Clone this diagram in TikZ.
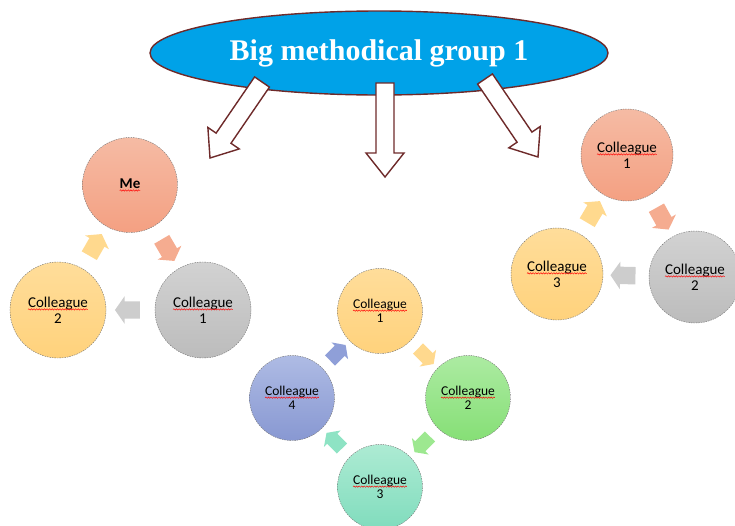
\documentclass[tikz,border=0pt]{standalone}
\usepackage{fontspec}
\setmainfont{Carlito}
\newfontfamily\titlefont{Liberation Serif}
\usetikzlibrary{shapes.geometric,shapes.arrows,calc,decorations.pathmorphing}
\newcommand\spellwave[1]{\tikz[baseline=(w.base)]{\node[rectangle, inner sep=0pt, outer sep=0pt, draw=none, fill=none, solid, minimum size=0pt, align=center] (w) {#1};
  \draw[red, solid, line width=0.45pt, decorate, decoration={snake, amplitude=0.7pt, segment length=2.6pt}] ([yshift=-2.2pt]w.base west) -- ([yshift=-2.2pt]w.base east);}}
\definecolor{outl}{HTML}{6E2A2A}
\definecolor{skyblue}{HTML}{00A2E8}
\definecolor{salT}{HTML}{F5BBA4}\definecolor{salB}{HTML}{F4A082}\definecolor{salA}{HTML}{F5AC90}
\definecolor{grT}{HTML}{D2D2D2}\definecolor{grB}{HTML}{BCBCBC}\definecolor{grA}{HTML}{CDCDCD}
\definecolor{yeT}{HTML}{FFDD9A}\definecolor{yeB}{HTML}{FFD27C}\definecolor{yeA}{HTML}{FFD98E}
\definecolor{gnT}{HTML}{ACEBA2}\definecolor{gnB}{HTML}{86DF76}\definecolor{gnA}{HTML}{9DE890}
\definecolor{tlT}{HTML}{ADEBD3}\definecolor{tlB}{HTML}{80DCBD}\definecolor{tlA}{HTML}{8EE3C4}
\definecolor{blT}{HTML}{AEBBE4}\definecolor{blB}{HTML}{8898D2}\definecolor{blA}{HTML}{8F9FD8}
\tikzset{
  bub/.style={circle, inner sep=0pt, minimum size=#1, align=center,
    draw=black!55, line width=0.4pt, dash pattern=on 1.5pt off 1pt,
    font=\fontsize{15}{16}\selectfont},
  bubs/.style={bub=85pt, font=\fontsize{13.5}{14.5}\selectfont},
  cycarrow/.style={single arrow, inner xsep=0pt, inner ysep=8.5pt, minimum height=25pt, minimum width=27pt,
    single arrow head extend=5pt, single arrow tip angle=110, draw=none},
  cycarrows/.style={cycarrow, inner ysep=7pt, minimum height=22pt, minimum width=23pt, single arrow head extend=4.5pt},
  hollow/.style={draw=outl, line width=1.4pt, fill=white, line join=miter},
}
\newcommand\cyc[5][]{%
  \path let \p1=($(#4)-(#3)$), \n1={atan2(\y1,\x1)} in
    node[cycarrow, #1, fill=#5, rotate=\n1] (#2) at ($(#3)!0.5!(#4)$) {};}
\newcommand\bigarrow[2]{%
  \coordinate (#1h) at ($(#2)!24pt!(#1)$);
  \draw[hollow] ($(#1)!9pt!90:(#2)$) -- ($(#1h)!9pt!90:(#2)$) -- ($(#1h)!19pt!90:(#2)$)
    -- (#2) -- ($(#1h)!19pt!-90:(#2)$) -- ($(#1h)!9pt!-90:(#2)$) -- ($(#1)!9pt!-90:(#2)$) -- cycle;}
\begin{document}
\begin{tikzpicture}[x=1pt,y=-1pt]
\useasboundingbox (0,0) rectangle (735,525);
% title
\node[ellipse, draw=outl, line width=1.4pt, fill=skyblue, minimum width=458pt, minimum height=84pt, inner sep=0pt,
  text=white, font=\titlefont\bfseries\fontsize{30}{34}\selectfont] (title) at (379,53) {\raisebox{-3pt}{Big methodical group 1}};
% big hollow arrows
\coordinate (la) at (262,82); \coordinate (lb) at (210,158);
\coordinate (ma) at (385,83); \coordinate (mb) at (385,177);
\coordinate (ra) at (485,79); \coordinate (rb) at (538,157);
\bigarrow{la}{lb}
\bigarrow{ma}{mb}
\bigarrow{ra}{rb}
% left group
\node[bub=95pt, top color=salT, bottom color=salB, font=\bfseries\fontsize{15}{17}\selectfont] (me) at (130,185) {\spellwave{Me}};
\node[bub=96pt, top color=grT, bottom color=grB] (lc1) at (203,310) {\spellwave{Colleague}\\1};
\node[bub=96pt, top color=yeT, bottom color=yeB] (lc2) at (58,310) {\spellwave{Colleague}\\2};
\cyc{a1}{me}{lc1}{salA}
\cyc{a2}{lc1}{lc2}{grA}
\cyc{a3}{lc2}{me}{yeA}
% right group
\node[bub=92pt, top color=salT, bottom color=salB] (rc1) at (627,155) {\spellwave{Colleague}\\1};
\node[bub=92pt, top color=grT, bottom color=grB] (rc2) at (695,277) {\spellwave{Colleague}\\2};
\node[bub=92pt, top color=yeT, bottom color=yeB] (rc3) at (557,274) {\spellwave{Colleague}\\3};
\cyc{b1}{rc1}{rc2}{salA}
\cyc{b2}{rc2}{rc3}{grA}
\cyc{b3}{rc3}{rc1}{yeA}
% bottom group
\node[bubs, top color=yeT, bottom color=yeB] (bc1) at (380,311) {\spellwave{Colleague}\\1};
\node[bubs, top color=gnT, bottom color=gnB] (bc2) at (468,398) {\spellwave{Colleague}\\2};
\node[bubs, top color=tlT, bottom color=tlB] (bc3) at (380,487) {\spellwave{Colleague}\\3};
\node[bubs, top color=blT, bottom color=blB] (bc4) at (292,398) {\spellwave{Colleague}\\4};
\cyc[cycarrows]{c1}{bc1}{bc2}{yeA}
\cyc[cycarrows]{c2}{bc2}{bc3}{gnA}
\cyc[cycarrows]{c3}{bc3}{bc4}{tlA}
\cyc[cycarrows]{c4}{bc4}{bc1}{blA}
\end{tikzpicture}
\end{document}
